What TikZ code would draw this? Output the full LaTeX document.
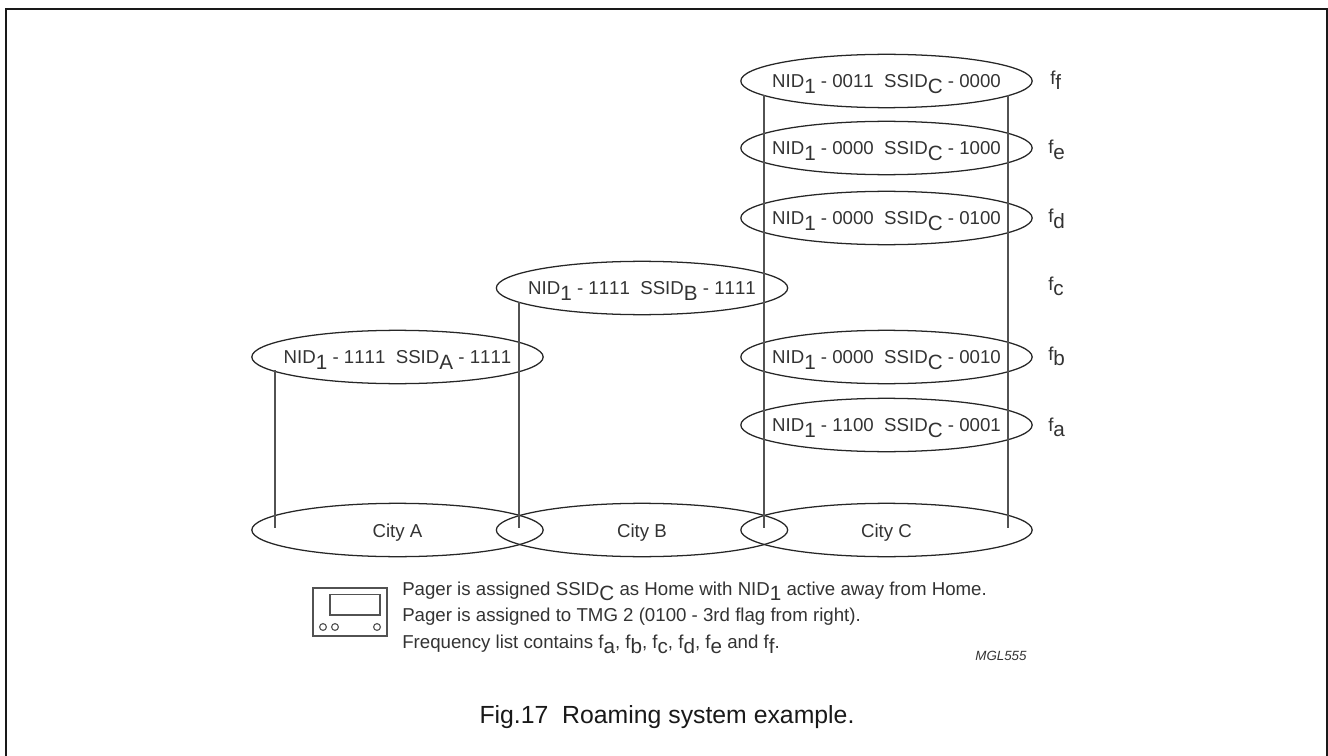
\documentclass[tikz,border=0pt]{standalone}
\usepackage{fontspec}
\setmainfont[Kerning=Off]{Liberation Sans}
\usetikzlibrary{shapes.geometric}
\tikzset{
 x=0.75pt,y=-0.75pt,
 cell/.style={draw=black!85,line width=0.95pt,ellipse,minimum width=218.5pt,minimum height=40pt,inner sep=0pt},
 lbl/.style={font=\fontsize{14}{16}\selectfont,text=black!80,inner sep=0pt,yshift=-2.2pt},
 wire/.style={draw=black!68,line width=0.85pt},
 note/.style={font=\fontsize{14}{16}\selectfont,text=black!80,inner sep=0pt,anchor=base west},
 freq/.style={font=\fontsize{14}{16}\selectfont,text=black!80,inner sep=0pt,anchor=base west}
}
\newcommand{\sbs}[1]{\raisebox{-0.55ex}{\fontsize{15.5}{16}\selectfont #1}}
\newcommand{\msg}[3]{NID\sbs{1} - #1\ \ SSID\sbs{#2} - #3}
\begin{document}
\begin{tikzpicture}
\useasboundingbox (0,0) rectangle (1328,756);
\coordinate (fbl) at (6,757); \coordinate (ftl) at (6,9); \coordinate (ftr) at (1326.5,9); \coordinate (fbr) at (1326.5,757);
\draw[black!90,line width=1.5pt] (fbl) -- (ftl) -- (ftr) -- (fbr);
\node[cell,label={[lbl]center:\msg{0011}{C}{0000}}] (ff) at (886.5,81) {};
\node[cell,label={[lbl]center:\msg{0000}{C}{1000}}] (fe) at (886.5,148) {};
\node[cell,label={[lbl]center:\msg{0000}{C}{0100}}] (fd) at (886.5,218) {};
\node[cell,label={[lbl]center:\msg{0000}{C}{0010}}] (fb) at (886.5,357) {};
\node[cell,label={[lbl]center:\msg{1100}{C}{0001}}] (fa) at (886.5,425) {};
\node[cell,label={[lbl]center:\msg{1111}{B}{1111}}] (nb) at (642,288) {};
\node[cell,label={[lbl]center:\msg{1111}{A}{1111}}] (na) at (397.5,357) {};
\node[cell,label={[lbl]center:City A}] (ca) at (397.5,530) {};
\node[cell,label={[lbl]center:City B}] (cb) at (642,530) {};
\node[cell,label={[lbl]center:City C}] (cc) at (886.5,530) {};
\coordinate (a1) at (275,370); \coordinate (a2) at (275,528);
\coordinate (b1) at (519,302); \coordinate (b2) at (519,528);
\coordinate (c1) at (764,95); \coordinate (c2) at (764,528);
\coordinate (d1) at (1008,95); \coordinate (d2) at (1008,528);
\draw[wire] (a1) -- (a2);
\draw[wire] (b1) -- (b2);
\draw[wire] (c1) -- (c2);
\draw[wire] (d1) -- (d2);
\node[freq] (lf) at (1050,84.5) {f\sbs{f}};
\node[freq] (le) at (1048,154) {f\sbs{e}};
\node[freq] (ld) at (1048,223) {f\sbs{d}};
\node[freq] (lc) at (1048,290) {f\sbs{c}};
\node[freq] (lb) at (1048,360) {f\sbs{b}};
\node[freq] (la) at (1048,431) {f\sbs{a}};
\draw[wire] (313,588) rectangle (387,636);
\draw[wire] (330,594.5) rectangle (380,615);
\draw[wire] (323,627) circle (3.4);
\draw[wire] (335,627) circle (3.4);
\draw[wire] (377,627) circle (3.4);
\node[note] (n1) at (402,595) {Pager is assigned SSID\sbs{C} as Home with NID\sbs{1} active away from Home.};
\node[note] (n2) at (402,621.5) {Pager is assigned to TMG 2 (0100 - 3rd flag from right).};
\node[note] (n3) at (402,648) {Frequency list contains f\sbs{a}, f\sbs{b}, f\sbs{c}, f\sbs{d}, f\sbs{e} and f\sbs{f}.};
\node[font=\fontsize{10}{12}\selectfont\itshape,text=black!80,inner sep=0pt] (code) at (1001,656) {MGL555};
\node[font=\fontsize{18.6}{22}\selectfont,text=black!90,inner sep=0pt,anchor=base] (cap) at (667,723) {Fig.17\ \ Roaming system example.};
\end{tikzpicture}
\end{document}
